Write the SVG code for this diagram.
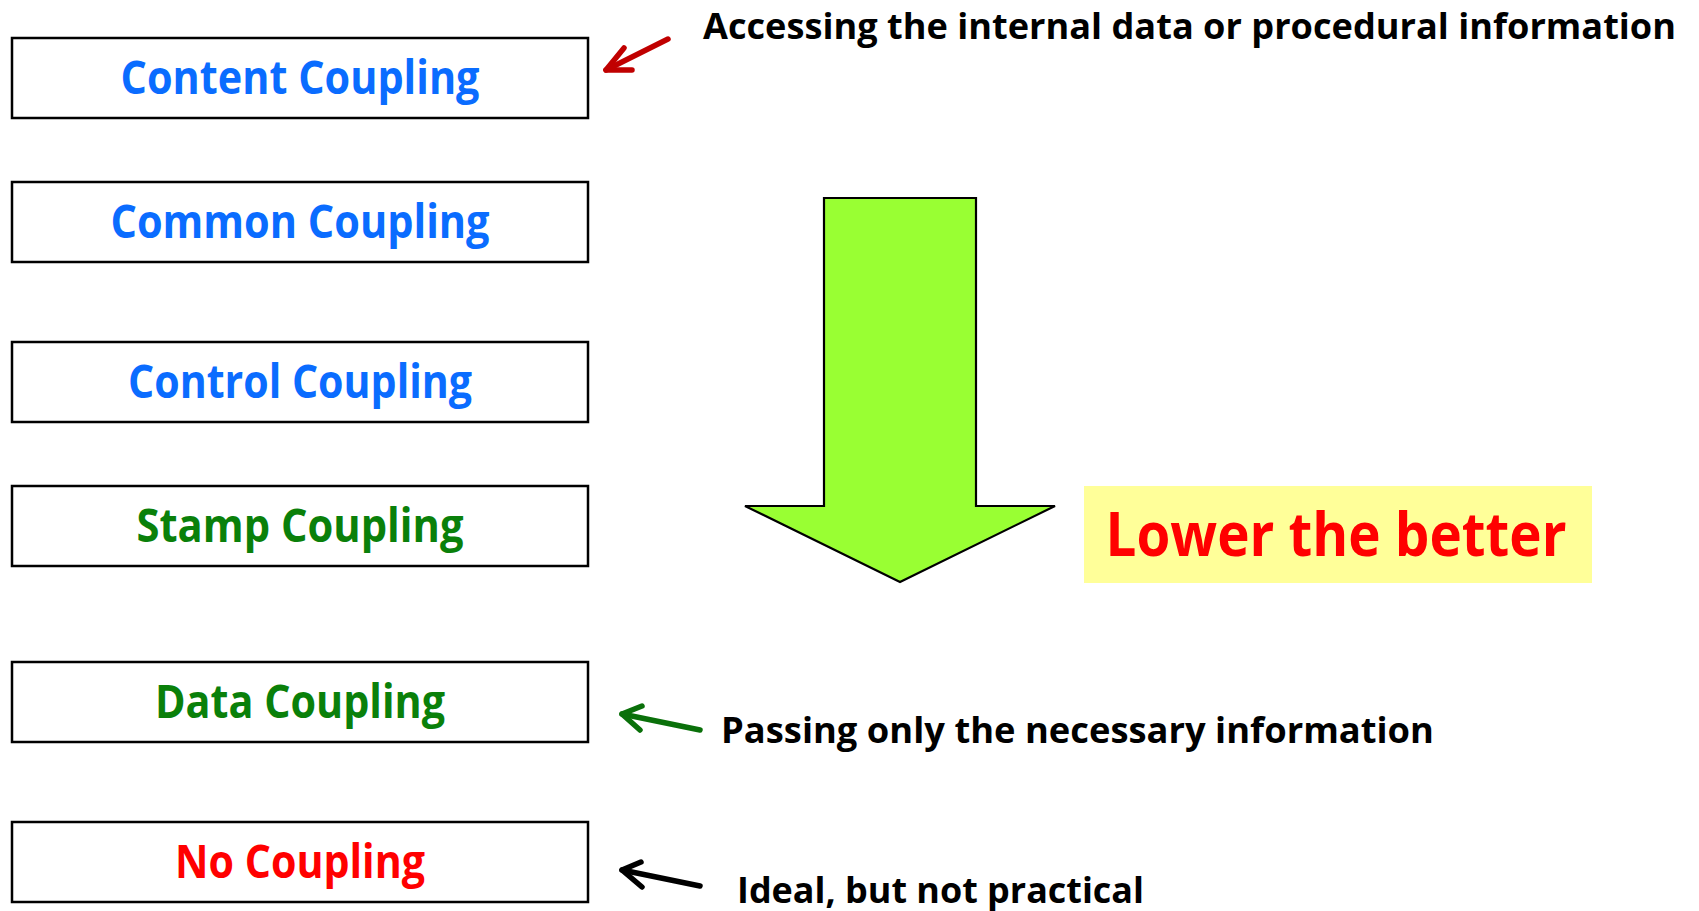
<svg xmlns="http://www.w3.org/2000/svg" width="1699" height="911" viewBox="0 0 1699 911">
  <style>
    .box { fill: #ffffff; stroke: #000000; stroke-width: 2.5; }
    .label { font-family: "Open Sans", "Liberation Sans", sans-serif; font-weight: 700; font-size: 47px; text-anchor: middle; }
    .blue { fill: #0a6cff; }
    .green { fill: #0a800a; }
    .red { fill: #ff0000; }
    .note { font-family: "Open Sans", "Liberation Sans", sans-serif; font-weight: 700; font-size: 36px; fill: #000000; }
    .pointer { fill: none; stroke-width: 5.5; stroke-linecap: round; stroke-linejoin: round; }
  </style>
  <rect width="1699" height="911" fill="#ffffff"/>

  <g id="content-coupling">
    <rect class="box" x="12" y="38" width="576" height="80"/>
    <text class="label blue" x="300" y="94" textLength="359" lengthAdjust="spacingAndGlyphs">Content Coupling</text>
  </g>
  <g id="common-coupling">
    <rect class="box" x="12" y="182" width="576" height="80"/>
    <text class="label blue" x="300" y="238" textLength="379" lengthAdjust="spacingAndGlyphs">Common Coupling</text>
  </g>
  <g id="control-coupling">
    <rect class="box" x="12" y="342" width="576" height="80"/>
    <text class="label blue" x="300" y="398" textLength="344" lengthAdjust="spacingAndGlyphs">Control Coupling</text>
  </g>
  <g id="stamp-coupling">
    <rect class="box" x="12" y="486" width="576" height="80"/>
    <text class="label green" x="300" y="542" textLength="327" lengthAdjust="spacingAndGlyphs">Stamp Coupling</text>
  </g>
  <g id="data-coupling">
    <rect class="box" x="12" y="662" width="576" height="80"/>
    <text class="label green" x="300" y="718" textLength="290" lengthAdjust="spacingAndGlyphs">Data Coupling</text>
  </g>
  <g id="no-coupling">
    <rect class="box" x="12" y="822" width="576" height="80"/>
    <text class="label red" x="300" y="878" textLength="250" lengthAdjust="spacingAndGlyphs">No Coupling</text>
  </g>

  <!-- big downward arrow -->
  <g id="direction-arrow">
    <polygon points="824,198 976,198 976,506 1055,506 900,582 745,506 824,506" fill="#99ff33" stroke="#000000" stroke-width="2.2" stroke-linejoin="miter"/>
  </g>

  <g id="lower-the-better">
    <rect x="1084" y="486" width="508" height="97" fill="#ffff99"/>
    <text x="1336" y="556" font-family="'Open Sans', 'Liberation Sans', sans-serif" font-weight="700" font-size="60" fill="#ff0000" text-anchor="middle" textLength="461" lengthAdjust="spacingAndGlyphs">Lower the better</text>
  </g>

  <!-- annotation pointers -->
  <g id="connectors">
    <g stroke="#c00000" class="pointer">
      <line x1="668" y1="39" x2="606" y2="70"/>
      <polyline points="624,48 606,70 632,70"/>
    </g>
    <g stroke="#0a700a" class="pointer">
      <line x1="700" y1="730" x2="622" y2="714"/>
      <polyline points="642,706 622,714 640,730"/>
    </g>
    <g stroke="#000000" class="pointer">
      <line x1="700" y1="886" x2="622" y2="870"/>
      <polyline points="641,862 622,870 642,887"/>
    </g>
  </g>

  <g id="notes">
    <text class="note" x="703" y="39" textLength="973" lengthAdjust="spacingAndGlyphs">Accessing the internal data or procedural information</text>
    <text class="note" x="721" y="743" textLength="713" lengthAdjust="spacingAndGlyphs">Passing only the necessary information</text>
    <text class="note" x="737" y="903" textLength="407" lengthAdjust="spacingAndGlyphs">Ideal, but not practical</text>
  </g>
</svg>
